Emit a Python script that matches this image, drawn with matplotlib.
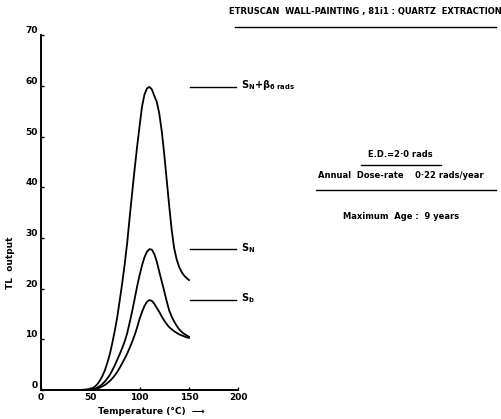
import matplotlib.pyplot as plt

plt.rcParams['font.family'] = 'DejaVu Sans'
plt.rcParams['font.weight'] = 'bold'

# glow curves, TL output vs temperature (°C)
temp = [0, 10, 20, 30, 40, 45,
        50, 52.5, 55, 57.5, 60, 62.5, 65, 67.5, 70, 72.5, 75, 77.5, 80,
        82.5, 85, 87.5, 90, 92.5, 95, 97.5, 100, 102.5, 105, 107.5, 110,
        112.5, 115, 117.5, 120, 122.5, 125, 127.5, 130, 132.5, 135, 137.5,
        140, 142.5, 145, 147.5, 150]
s_n_beta = [0, 0, 0, 0, 0.03, 0.1,
            0.2, 0.4, 0.7, 1.2, 1.9, 2.8, 3.9, 5.4, 7.1, 9.3, 11.7, 14.4, 17.7,
            21.1, 24.8, 29, 34, 38.8, 43.5, 47.9, 52, 55.9, 58.3, 59.5,
            59.8, 59.3, 58, 56.8, 54.5, 51, 46.5, 41.4, 36.3, 31.6, 28, 25.8,
            24.3, 23.3, 22.6, 22.1, 21.7]
s_n = [0, 0, 0, 0, 0.01, 0.04,
       0.1, 0.2, 0.3, 0.5, 0.8, 1.2, 1.7, 2.3, 3.0, 3.9, 4.9, 6.0, 7.1,
       8.3, 9.6, 11.2, 13.3, 15.5, 17.9, 20.4, 22.6, 24.6, 26.2, 27.3, 27.8,
       27.7, 26.8, 25.3, 23.3, 21.4, 19.5, 17.5, 15.7, 14.5, 13.5, 12.7,
       12.0, 11.5, 11.1, 10.8, 10.5]
s_b = [0, 0, 0, 0, 0.01, 0.02,
       0.05, 0.1, 0.2, 0.35, 0.5, 0.75, 1, 1.4, 1.8, 2.3, 2.9, 3.6, 4.4,
       5.3, 6.2, 7.2, 8.3, 9.5, 10.8, 12.3, 14.0, 15.4, 16.6, 17.4, 17.75,
       17.6, 17, 16.2, 15.4, 14.5, 13.7, 13, 12.4, 12, 11.6, 11.3,
       11, 10.8, 10.6, 10.4, 10.3]

peak_levels = [59.8, 27.8, 17.75]
xticks = [0, 50, 100, 150, 200]
yticks = [0, 10, 20, 30, 40, 50, 60, 70]

fig = plt.figure(figsize=(5.01, 4.19), dpi=100)
ax = fig.add_axes([0.081, 0.069, 0.395, 0.847])

for curve in (s_n_beta, s_n, s_b):
    ax.plot(temp, curve, color='black', lw=1.3, solid_joinstyle='round')

ax.set_xlim(0, 200)
ax.set_ylim(0, 70)
for side in ('top', 'right'):
    ax.spines[side].set_visible(False)
for side in ('left', 'bottom'):
    ax.spines[side].set_linewidth(1.4)

ax.set_xticks(xticks)
ax.set_xticklabels([str(t) for t in xticks], fontsize=6.5, fontweight='bold')
ax.set_yticks(yticks)
ax.set_yticklabels([str(t) for t in yticks], fontsize=6.5, fontweight='bold',
                   va='bottom')
ax.tick_params(axis='both', direction='in', length=2.5, width=1, pad=2)

ax.set_ylabel('TL  output', fontsize=6.5, fontweight='bold')
ax.yaxis.set_label_coords(-0.13, 0.36)
ax.text(0.56, -0.06, 'Temperature (°C)  ⟶', transform=ax.transAxes,
        fontsize=6.5, fontweight='bold', ha='center', va='center')

# level markers next to the peaks
labels = [r'$\mathbf{S_{N}{+}\beta_{6\ rads}}$', r'$\mathbf{S_{N}}$',
          r'$\mathbf{S_{b}}$']
for lvl, lab in zip(peak_levels, labels):
    ax.plot([151, 198], [lvl, lvl], color='black', lw=1.0, clip_on=False)
    ax.text(203, lvl + 0.3, lab, fontsize=7, ha='left', va='center',
            clip_on=False)

# title and notes
fig.text(0.73, 0.972, 'ETRUSCAN  WALL-PAINTING , 81i1 : QUARTZ  EXTRACTION',
         fontsize=6, fontweight='bold', ha='center', va='center')
fig.add_artist(plt.Line2D([0.47, 0.99], [0.935, 0.935], color='black', lw=1))

fig.text(0.8, 0.632, 'E.D.=2·0 rads', fontsize=6, fontweight='bold',
         ha='center', va='center')
fig.add_artist(plt.Line2D([0.72, 0.88], [0.607, 0.607], color='black', lw=1))
fig.text(0.8, 0.58, 'Annual  Dose-rate    0·22 rads/year', fontsize=6,
         fontweight='bold', ha='center', va='center')
fig.add_artist(plt.Line2D([0.63, 0.99], [0.547, 0.547], color='black', lw=1))
fig.text(0.8, 0.483, 'Maximum  Age :  9 years', fontsize=6,
         fontweight='bold', ha='center', va='center')

fig.savefig('out.png', dpi=100, facecolor='white')
